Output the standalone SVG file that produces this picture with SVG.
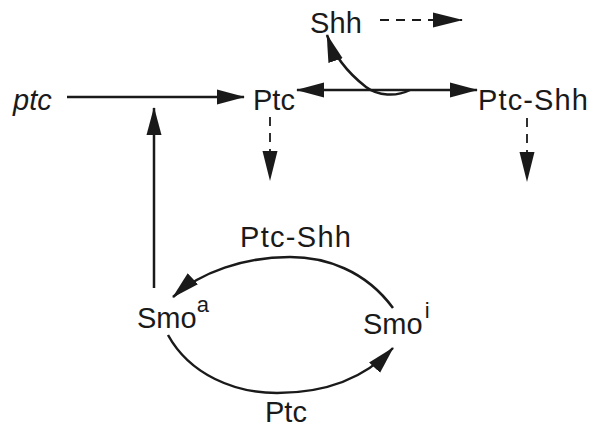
<svg xmlns="http://www.w3.org/2000/svg" width="600" height="430" viewBox="0 0 600 430">
<style>
text{font-family:"Liberation Sans",Arial,sans-serif;font-size:29px;fill:#1a1a1a}
.l{fill:none;stroke:#1a1a1a;stroke-width:2.5}
.d{fill:none;stroke:#1a1a1a;stroke-width:1.8;stroke-dasharray:9 7}
.a{marker-end:url(#ah)}
.b{marker-end:url(#dh)}
</style>
<defs>
<marker id="ah" markerUnits="userSpaceOnUse" markerWidth="28" markerHeight="16" refX="27" refY="8" orient="auto-start-reverse" viewBox="0 0 28 16">
<path d="M0,0.5 L28,8 L0,15.5 z" fill="#1a1a1a"/>
</marker>
<marker id="dh" markerUnits="userSpaceOnUse" markerWidth="30" markerHeight="16" refX="29" refY="8" orient="auto" viewBox="0 0 30 16">
<path d="M0,0.5 L30,8 L0,15.5 z" fill="#1a1a1a"/>
</marker>
</defs>
<rect width="600" height="430" fill="#fff"/>
<g id="connectors">
<line class="l a" x1="67" y1="97" x2="244" y2="97"/>
<line class="l a" x1="154" y1="288" x2="154" y2="108"/>
<line class="l a" x1="297" y1="90" x2="477" y2="90" style="marker-start:url(#ah)"/>
<path class="l a" d="M410,90 C396,97 378,96 366,87 C348,73 334,56 327,35"/>
<line class="d b" x1="380" y1="20" x2="462" y2="20"/>
<line class="d b" x1="270" y1="117" x2="270" y2="180"/>
<line class="d b" x1="527" y1="118" x2="527" y2="181"/>
<path class="l a" d="M393,308 C365,270 325,257 290,257 C245,257 200,272 173,297"/>
<path class="l a" d="M168,335 C190,375 235,393 277,393 C325,393 365,378 393,348"/>
</g>
<g id="ptc-gene"><text x="13" y="110" font-style="italic" font-size="30">ptc</text></g>
<g id="Ptc"><text x="253" y="110">Ptc</text></g>
<g id="Shh"><text x="310" y="33" textLength="52">Shh</text></g>
<g id="Ptc-Shh"><text x="478" y="110" textLength="110">Ptc-Shh</text></g>
<g id="Smo-a"><text x="137" y="328" font-size="28">Smo<tspan font-size="22" dy="-16">a</tspan></text></g>
<g id="Smo-i"><text x="363" y="334">Smo<tspan font-size="22" dy="-16" dx="2">i</tspan></text></g>
<g id="label-ptcshh"><text x="240" y="247" textLength="111">Ptc-Shh</text></g>
<g id="label-ptc"><text x="265" y="422">Ptc</text></g>
</svg>
